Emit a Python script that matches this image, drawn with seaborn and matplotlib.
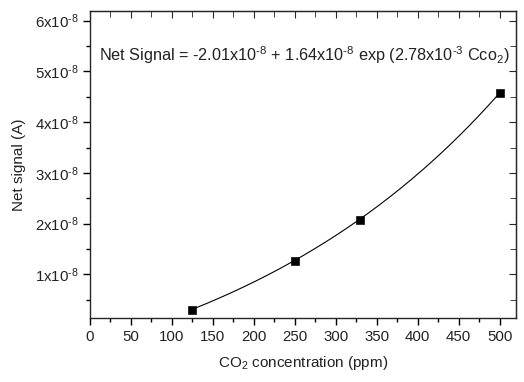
import numpy as np
import pandas as pd
import matplotlib
matplotlib.use("Agg")
import matplotlib.pyplot as plt
from matplotlib.ticker import MultipleLocator, FuncFormatter
import seaborn as sns

# measured points
co2_ppm = [125, 250, 330, 500]
net_signal = [0.30e-8, 1.26e-8, 2.08e-8, 4.57e-8]

# exponential fit shown on the chart
fit_a = -2.01e-8
fit_b = 1.64e-8
fit_k = 2.78e-3

sns.set_style("ticks")
plt.rcParams["font.family"] = ["Liberation Sans", "DejaVu Sans"]
plt.rcParams["mathtext.fontset"] = "custom"
plt.rcParams["mathtext.rm"] = "Liberation Sans"
plt.rcParams["mathtext.it"] = "Liberation Sans"
plt.rcParams["mathtext.default"] = "regular"
plt.rcParams["axes.unicode_minus"] = False

txt = "#222222"

fig = plt.figure(figsize=(5.24, 3.82), dpi=100)
ax = fig.add_axes([90 / 524, 1 - 318 / 382, 426 / 524, 307 / 382])

xfit = np.linspace(min(co2_ppm), max(co2_ppm), 200)
fit_df = pd.DataFrame({"x": xfit, "y": fit_a + fit_b * np.exp(fit_k * xfit)})
pts = pd.DataFrame({"x": co2_ppm, "y": net_signal})

sns.lineplot(data=fit_df, x="x", y="y", ax=ax, color="black", linewidth=0.8)
sns.scatterplot(data=pts, x="x", y="y", ax=ax, marker="s", s=32, color="black",
                edgecolor="black", zorder=3)

ax.set_xlim(0, 520)
ax.set_ylim(0.14e-8, 6.19e-8)
ax.xaxis.set_major_locator(MultipleLocator(50))
ax.xaxis.set_minor_locator(MultipleLocator(25))
ax.yaxis.set_major_locator(MultipleLocator(1e-8))
ax.yaxis.set_minor_locator(MultipleLocator(0.5e-8))
ax.yaxis.set_major_formatter(FuncFormatter(
    lambda v, p: "" if v < 0.5e-8 else f"{v / 1e-8:.0f}x10$^{{\\text{{-8}}}}$"))

for side in ["top", "right", "left", "bottom"]:
    ax.spines[side].set_visible(True)
    ax.spines[side].set_linewidth(1.0)
ax.tick_params(which="both", direction="out", top=False, right=False,
               labelsize=10.8, width=1.0, colors="black", labelcolor=txt)
ax.tick_params(which="major", length=5)
ax.tick_params(which="minor", length=3)

# inward ticks on top and right
axt = ax.secondary_xaxis("top")
axt.xaxis.set_major_locator(MultipleLocator(50))
axt.xaxis.set_minor_locator(MultipleLocator(25))
axt.tick_params(which="both", direction="in", labeltop=False)
axt.tick_params(which="major", length=5)
axt.tick_params(which="minor", length=4)
axr = ax.secondary_yaxis("right")
axr.yaxis.set_major_locator(MultipleLocator(1e-8))
axr.yaxis.set_minor_locator(MultipleLocator(0.5e-8))
axr.tick_params(which="both", direction="in", labelright=False)
axr.tick_params(which="major", length=5)
axr.tick_params(which="minor", length=4)

ax.yaxis.get_offset_text().set_visible(False)
ax.set_xlabel("CO$_2$ concentration (ppm)", fontsize=11, labelpad=7, color=txt)
ax.set_ylabel("Net signal (A)", fontsize=11, labelpad=6, color=txt)

ax.text(0.985, 0.855,
        r"Net Signal = -2.01x10$^{\text{-8}}$ + 1.64x10$^{\text{-8}}$ exp "
        r"(2.78x10$^{\text{-3}}$ Cco$_2$)",
        transform=ax.transAxes, ha="right", va="center", fontsize=11.7, color=txt)

fig.savefig("out.png", dpi=100)
